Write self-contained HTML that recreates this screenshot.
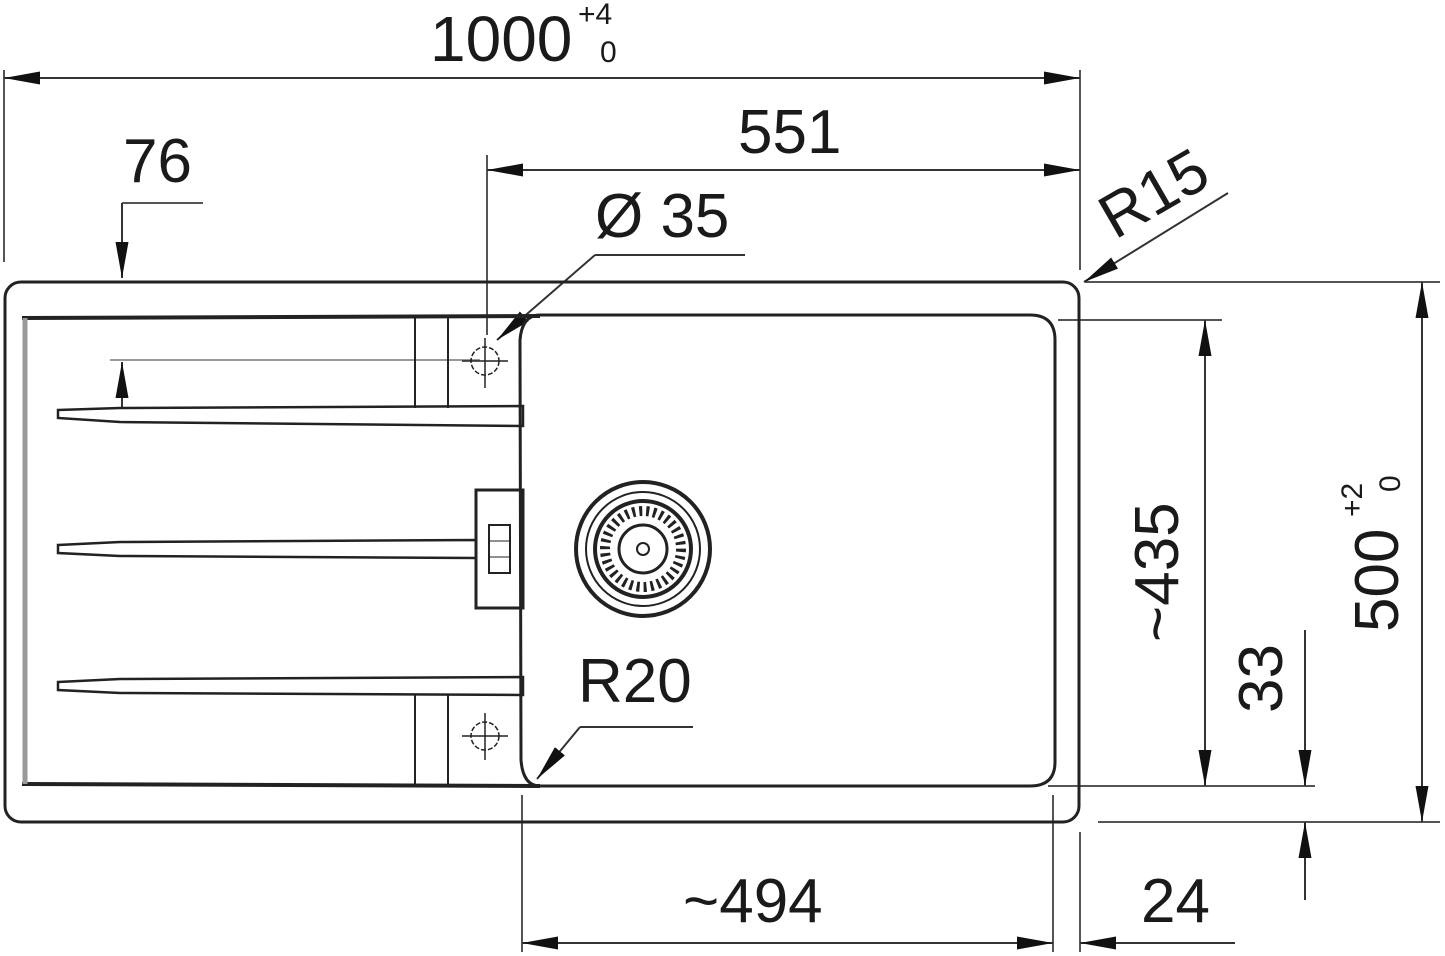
<!DOCTYPE html>
<html><head><meta charset="utf-8"><style>
html,body{margin:0;padding:0;background:#fff;}
svg{display:block;}
text{font-family:"Liberation Sans",sans-serif;fill:#1a1a1a;}
</style></head><body>
<svg width="1445" height="956" viewBox="0 0 1445 956" xmlns="http://www.w3.org/2000/svg">
<defs>
<marker id="a" viewBox="0 0 10 10" refX="10" refY="5" markerWidth="36" markerHeight="13" markerUnits="userSpaceOnUse" preserveAspectRatio="none" orient="auto-start-reverse"><path d="M0,0 L10,5 L0,10 z" fill="#111"/></marker>
</defs>
<g stroke="#555" stroke-width="2" fill="none">
<line x1="4" y1="70" x2="4" y2="262"/>
<line x1="1080" y1="70" x2="1080" y2="270"/>
<line x1="487" y1="155" x2="487" y2="335"/>
<line x1="1085" y1="282" x2="1440" y2="282"/>
<line x1="1058" y1="320" x2="1222" y2="320"/>
<line x1="1048" y1="786" x2="1315" y2="786"/>
<line x1="1098" y1="822" x2="1440" y2="822"/>
<line x1="522" y1="795" x2="522" y2="952"/>
<line x1="1053" y1="795" x2="1053" y2="952"/>
<line x1="1080" y1="832" x2="1080" y2="952"/>
<line x1="110" y1="360" x2="480" y2="360" stroke="#999"/>
<line x1="122" y1="203" x2="203" y2="203"/>
</g>
<g stroke="#333" stroke-width="2" fill="none">
<line x1="4" y1="78" x2="1080" y2="78" marker-start="url(#a)" marker-end="url(#a)"/>
<line x1="487" y1="170" x2="1080" y2="170" marker-start="url(#a)" marker-end="url(#a)"/>
<line x1="122" y1="203" x2="122" y2="278" marker-end="url(#a)"/>
<line x1="122" y1="408" x2="122" y2="362" marker-end="url(#a)"/>
<line x1="745" y1="255" x2="595" y2="255"/>
<line x1="595" y1="255" x2="497" y2="340" marker-end="url(#a)"/>
<line x1="1228" y1="193" x2="1084" y2="282" marker-end="url(#a)"/>
<line x1="1205" y1="320" x2="1205" y2="786" marker-start="url(#a)" marker-end="url(#a)"/>
<line x1="1422" y1="282" x2="1422" y2="822" marker-start="url(#a)" marker-end="url(#a)"/>
<line x1="1305" y1="630" x2="1305" y2="786" marker-end="url(#a)"/>
<line x1="1305" y1="900" x2="1305" y2="822" marker-end="url(#a)"/>
<line x1="522" y1="943" x2="1053" y2="943" marker-start="url(#a)" marker-end="url(#a)"/>
<line x1="1235" y1="943" x2="1080" y2="943" marker-end="url(#a)"/>
<line x1="693" y1="727" x2="580" y2="727"/>
<line x1="580" y1="727" x2="537" y2="779" marker-end="url(#a)"/>
</g>
<g stroke="#222" fill="none">
<rect x="5" y="282" width="1074" height="540" rx="16" stroke-width="3"/>
<path d="M22,318 L540,316" stroke-width="4"/>
<path d="M22,784 L540,786" stroke-width="4"/>
<line x1="25" y1="318" x2="25" y2="784" stroke="#999" stroke-width="5"/>
<path d="M540,315 L1030,315 Q1055,315 1055,340 L1055,762 Q1055,786 1030,786 L540,786 Q523,786 521,760 L520,340 Q522,315 540,315 Z" stroke-width="3"/>
<g stroke-width="2">
<line x1="415" y1="316" x2="415" y2="408"/><line x1="448" y1="316" x2="448" y2="408"/>
<line x1="415" y1="695" x2="415" y2="786"/><line x1="448" y1="695" x2="448" y2="786"/>
</g>
<path d="M58,410 L120,408 L523,406 L523,426 L120,422 L58,418 Z" stroke-width="2.5"/>
<path d="M58,545 L120,542 L476,540 L476,558 L120,556 L58,553 Z" stroke-width="2.5"/>
<path d="M58,682 L120,679 L523,677 L523,695 L120,693 L58,690 Z" stroke-width="2.5"/>
<rect x="476" y="490" width="47" height="118" stroke-width="3"/>
<rect x="489" y="525" width="21" height="48" stroke-width="2"/>
<line x1="489" y1="541" x2="510" y2="541"/><line x1="489" y1="557" x2="510" y2="557"/>
<g stroke-width="1.5" stroke-dasharray="5 2">
<circle cx="485" cy="361" r="14"/><circle cx="485" cy="736" r="14"/>
</g>
<g stroke-width="1.5">
<line x1="462" y1="361" x2="508" y2="361"/><line x1="485" y1="338" x2="485" y2="388"/>
<line x1="462" y1="736" x2="508" y2="736"/><line x1="485" y1="713" x2="485" y2="760"/>
</g>
<circle cx="643" cy="549" r="67" stroke-width="4"/>
<circle cx="643" cy="549" r="57" stroke-width="2"/>
<circle cx="643" cy="549" r="48" stroke-width="4"/>
<circle cx="643" cy="549" r="38" stroke-width="10" stroke-dasharray="3 4"/>
<circle cx="643" cy="549" r="24" stroke-width="3"/>
<circle cx="643" cy="549" r="6" stroke-width="2"/>
</g>
<text x="430" y="61" font-size="64">1000</text>
<text x="578" y="24" font-size="30">+4</text>
<text x="600" y="62" font-size="30">0</text>
<text x="738" y="153" font-size="62">551</text>
<text x="123" y="182" font-size="62">76</text>
<text x="595" y="237" font-size="62">Ø 35</text>
<text transform="translate(1115,240) rotate(-30)" font-size="62">R15</text>
<text transform="translate(1178,642) rotate(-90)" font-size="62">~435</text>
<text transform="translate(1398,632) rotate(-90)" font-size="62">500</text>
<text transform="translate(1362,517) rotate(-90)" font-size="30">+2</text>
<text transform="translate(1400,492) rotate(-90)" font-size="30">0</text>
<text transform="translate(1282,713) rotate(-90)" font-size="62">33</text>
<text x="578" y="702" font-size="62">R20</text>
<text x="683" y="922" font-size="62">~494</text>
<text x="1141" y="922" font-size="62">24</text>
</svg>
</body></html>
